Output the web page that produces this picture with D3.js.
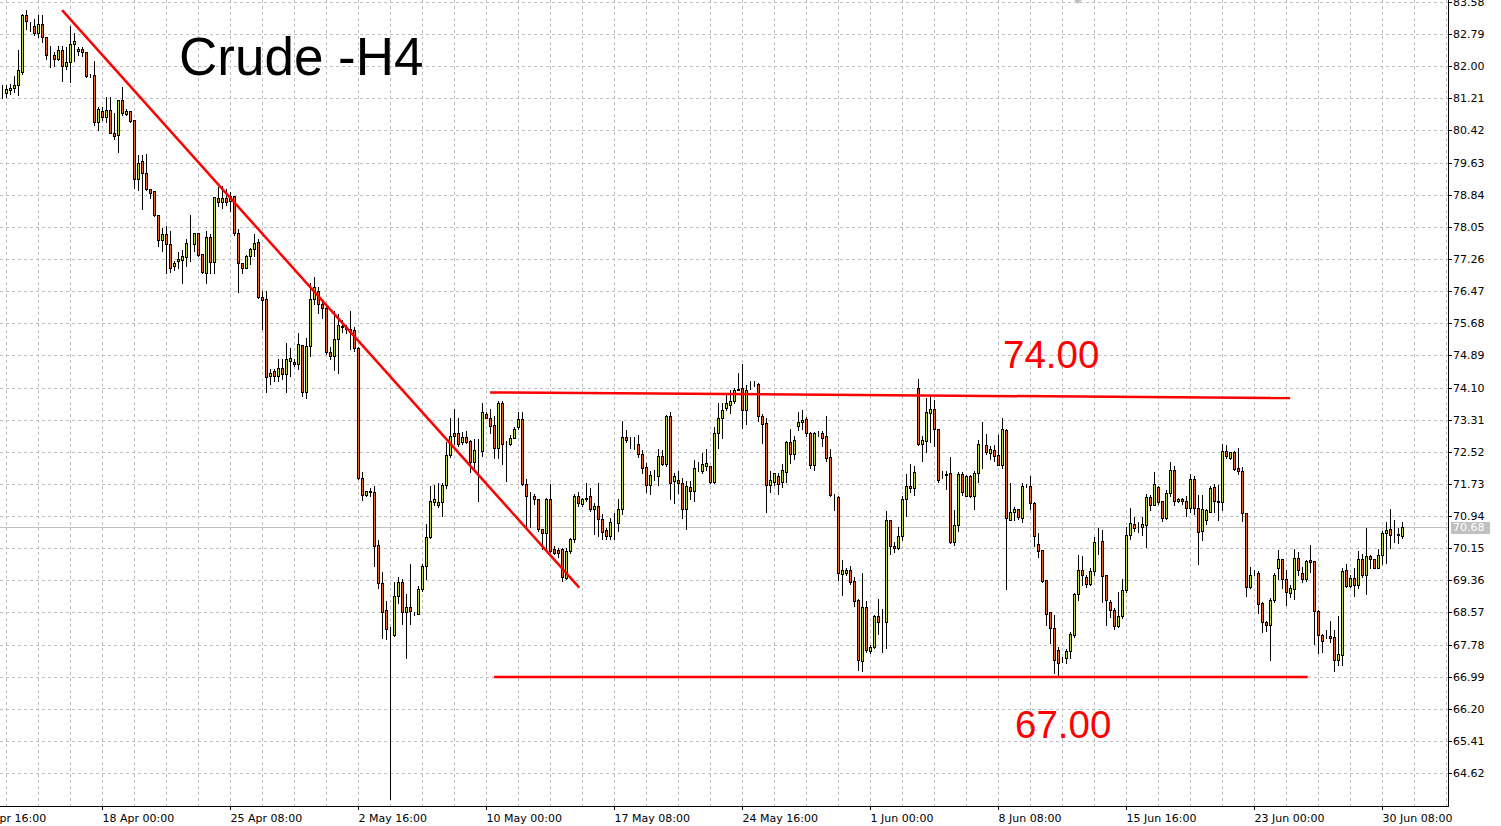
<!DOCTYPE html>
<html><head><meta charset="utf-8">
<script src="https://cdn.jsdelivr.net/npm/d3@7"></script>
<style>
html,body{margin:0;padding:0;background:#fff;overflow:hidden}
svg{display:block}
text{font-family:"DejaVu Sans",sans-serif}
text.big{font-family:"Liberation Sans",Arial,sans-serif}
</style></head><body>
<svg id="c" width="1501" height="826"></svg>
<script>
// ---- DATA (H4 candles, index 0..350) ----
const open = [
81.37,81.35,81.42,81.46,81.55,81.87,83.25,83.00,82.98,82.82,
83.05,82.73,82.28,82.27,82.18,82.41,82.01,82.11,82.55,82.37,
82.43,82.35,81.77,81.79,80.63,80.91,80.75,80.93,80.37,80.30,
81.18,80.82,80.89,80.67,79.23,79.66,79.38,78.97,78.93,78.33,
77.73,77.88,77.62,77.09,77.22,77.23,77.32,77.66,77.64,77.91,
77.39,76.92,77.81,77.19,78.77,78.65,78.77,78.69,78.81,77.91,
77.17,77.05,77.33,77.51,77.69,76.33,76.28,74.38,74.50,74.38,
74.57,74.44,74.75,74.73,74.67,75.15,74.00,75.12,76.28,76.47,
76.15,76.06,74.98,74.88,75.30,75.62,75.58,75.54,75.52,75.07,
71.88,71.46,71.55,71.54,70.23,69.29,68.63,68.02,68.01,68.97,
69.31,68.57,68.71,68.54,68.54,69.14,69.71,70.42,71.28,71.20,
71.29,71.70,72.43,72.97,72.97,72.75,72.89,72.79,72.26,72.56,
72.54,73.44,73.36,73.17,72.60,73.73,72.73,72.70,72.87,73.12,
73.32,71.72,71.46,71.42,71.35,70.61,70.53,71.35,70.12,70.10,
70.12,69.42,70.08,70.37,71.43,71.23,71.37,71.42,71.12,71.19,
70.86,70.59,70.45,70.80,70.77,71.12,72.89,72.72,72.70,72.70,
72.46,72.14,71.71,71.93,71.93,72.42,72.22,73.40,71.81,71.83,
71.75,71.12,71.65,71.55,72.10,72.05,72.16,72.16,71.78,72.99,
73.34,73.60,73.67,73.77,74.05,74.08,73.55,74.15,74.16,74.18,
73.39,73.22,71.70,71.77,71.92,71.77,72.03,72.75,72.46,73.16,
73.24,73.32,72.97,72.20,72.99,72.97,72.90,72.38,71.43,71.40,
69.52,69.55,69.62,69.33,68.87,67.37,68.70,67.61,67.72,68.48,
68.35,68.33,70.85,70.21,70.15,70.46,71.36,71.67,71.62,74.10,
72.71,72.79,73.47,73.57,73.08,71.95,71.95,71.99,70.30,70.72,
71.97,71.44,71.92,71.44,71.99,72.70,72.69,72.49,72.56,72.44,
72.20,73.05,70.85,71.03,71.11,70.89,71.67,71.67,71.26,70.26,
70.11,69.36,68.57,68.19,67.65,67.44,67.46,67.61,68.02,69.01,
69.62,69.43,69.26,69.59,70.30,70.32,69.48,68.82,68.63,68.24,
68.48,69.12,70.48,70.75,70.67,70.67,70.72,71.40,71.21,71.65,
71.30,70.89,71.50,72.07,71.30,71.36,71.32,71.13,71.85,71.13,
70.56,70.85,71.05,71.65,71.32,71.28,72.54,72.36,72.52,72.11,
72.05,71.01,69.20,69.53,69.55,68.79,68.34,68.26,68.87,69.65,
69.89,69.40,69.05,69.14,69.91,69.53,69.40,69.87,69.83,68.60,
68.02,67.99,68.00,67.97,67.40,67.53,69.61,69.22,69.42,69.24,
69.89,69.48,69.96,69.89,69.66,69.97,70.51,70.63,70.48,70.48,
70.45];
const high = [
81.53,81.55,81.57,81.75,82.39,83.28,83.39,83.09,83.17,83.25,
83.25,82.73,82.49,82.35,82.51,82.49,82.47,82.98,82.82,82.47,
82.47,82.35,81.80,82.14,81.01,81.01,81.24,81.24,80.86,81.18,
81.49,80.95,80.89,80.67,79.82,79.82,79.83,78.97,78.93,78.33,
78.03,78.06,77.94,77.21,77.43,77.49,77.74,78.33,77.91,77.91,
77.39,77.95,77.87,78.79,79.04,79.06,78.99,78.91,78.81,77.99,
77.17,77.35,77.54,77.87,77.74,76.47,76.47,74.55,74.55,74.80,
74.81,75.20,75.08,74.79,75.45,75.15,75.32,76.66,76.82,76.57,
76.28,76.11,75.09,75.98,75.90,75.77,75.64,75.99,75.60,75.10,
72.02,71.56,71.63,71.69,70.36,69.57,68.84,68.20,69.31,69.43,
69.39,69.01,69.77,68.58,69.22,69.77,70.74,71.67,71.71,71.75,
71.74,72.77,73.36,73.58,73.34,73.00,73.03,72.81,72.83,72.83,
73.71,73.49,73.57,73.40,73.77,73.77,72.79,72.93,73.12,73.49,
73.49,71.86,71.53,71.48,71.35,70.61,71.39,71.72,70.20,70.16,
70.16,70.16,70.41,71.47,71.52,71.39,71.76,71.62,71.27,71.75,
71.00,70.65,70.90,71.02,71.35,73.28,73.06,72.88,72.88,72.93,
72.56,72.24,72.04,72.08,72.58,72.57,73.42,73.50,72.00,72.04,
71.87,71.79,71.79,72.32,72.28,72.48,72.58,72.16,73.14,73.71,
73.73,73.91,74.05,74.09,74.46,74.69,74.16,74.27,74.27,74.22,
73.45,73.36,72.04,71.99,72.00,72.22,72.79,73.08,72.90,73.49,
73.55,73.38,73.00,73.00,73.04,73.04,73.39,72.59,71.48,71.43,
69.85,69.65,69.72,69.44,68.91,69.54,68.86,67.76,68.50,68.91,
68.66,71.07,70.85,70.30,70.66,71.42,71.97,72.22,72.16,74.30,
72.91,73.83,73.90,73.79,73.08,72.05,72.05,72.38,71.09,72.01,
72.01,71.95,71.95,72.05,72.82,73.26,72.95,72.67,72.68,72.93,
73.34,73.09,71.74,71.17,71.11,71.74,71.73,71.92,71.28,70.53,
70.11,69.36,68.57,68.50,67.73,67.48,67.67,68.08,69.04,69.99,
69.95,69.49,69.65,70.42,70.65,70.59,69.48,68.87,68.67,69.08,
69.40,70.67,71.13,70.91,70.79,70.91,71.48,71.46,72.03,71.69,
71.32,71.57,72.26,72.18,71.38,71.38,71.43,71.97,71.93,71.46,
71.46,71.12,71.69,71.73,71.70,72.71,72.68,72.52,72.54,72.62,
72.14,71.01,69.69,69.60,69.58,68.83,68.36,68.93,69.53,70.11,
69.89,69.61,69.24,70.14,70.06,69.69,69.85,70.22,69.83,68.63,
68.03,68.13,68.36,68.13,68.49,69.66,69.77,69.48,69.66,70.07,
70.01,70.65,69.98,69.89,70.12,70.56,70.79,71.12,70.83,70.65,
70.79];
const low = [
81.23,81.24,81.32,81.37,81.30,81.82,82.91,82.86,82.78,82.72,
82.60,82.18,81.98,82.00,82.16,81.64,81.93,81.61,82.14,82.27,
82.24,81.73,81.73,80.56,80.44,80.67,80.63,80.36,80.21,79.89,
80.79,80.79,80.63,79.01,78.95,78.50,78.95,78.75,78.32,77.58,
77.46,76.92,76.94,76.99,77.05,76.66,77.09,77.21,77.46,77.33,
76.91,76.68,76.92,76.92,78.56,78.52,78.58,78.44,77.84,76.45,
76.92,77.04,77.13,77.33,76.31,75.55,73.99,74.18,74.26,74.26,
74.30,74.00,74.39,74.63,74.55,73.88,73.84,74.88,76.15,75.94,
75.81,74.92,74.80,74.54,74.46,75.47,75.43,75.05,75.00,71.85,
71.33,71.42,71.42,69.71,69.18,67.94,67.91,63.98,67.99,68.80,
68.29,67.45,68.29,68.50,68.52,69.10,69.39,70.40,71.22,71.16,
70.95,71.63,72.39,72.71,72.67,72.71,72.73,72.03,72.13,71.30,
72.42,73.34,72.99,72.36,72.36,72.21,71.79,72.68,72.87,73.07,
71.70,70.66,70.68,71.23,70.57,70.12,70.12,70.06,70.00,69.92,
69.34,69.38,70.04,70.29,71.19,71.18,71.31,71.07,70.49,70.45,
70.37,70.37,70.37,70.37,70.57,70.98,72.75,72.62,72.59,72.40,
72.00,71.52,71.49,71.83,71.71,72.20,72.16,71.35,71.26,71.51,
70.90,70.61,71.35,71.32,72.04,72.00,72.08,71.75,71.75,72.60,
72.85,73.55,73.48,73.71,74.03,73.10,73.20,74.06,74.14,73.28,
72.73,71.03,71.52,71.70,71.48,71.66,71.77,72.24,72.34,73.06,
73.09,72.91,72.12,72.08,72.91,72.67,72.30,71.44,71.08,69.37,
69.00,69.50,69.27,68.72,67.15,67.13,67.60,67.56,67.70,68.05,
67.60,67.70,70.01,70.05,70.13,70.36,70.95,71.52,71.46,72.68,
72.30,72.52,72.77,72.65,71.78,71.87,71.60,70.28,70.23,70.58,
71.46,71.44,71.40,71.10,71.77,72.11,72.46,72.34,72.30,72.19,
72.11,69.15,70.83,70.83,70.87,70.79,71.65,71.11,70.21,69.93,
69.31,68.25,67.81,67.08,66.99,67.36,67.32,67.44,67.97,68.87,
69.24,69.20,69.24,69.48,70.01,68.83,68.26,68.46,68.16,68.20,
68.44,69.08,70.38,70.57,70.55,70.47,70.18,71.08,71.20,71.24,
70.81,70.87,71.44,71.20,71.28,71.24,70.94,71.04,71.00,69.75,
70.34,70.75,71.03,71.05,70.83,71.08,72.36,72.34,72.08,71.97,
70.81,68.97,69.18,69.50,68.55,68.09,68.11,67.40,68.83,69.40,
69.17,68.75,68.95,68.91,69.48,69.32,69.34,69.57,67.79,67.57,
67.60,67.93,67.85,67.13,67.27,67.27,69.20,69.20,68.98,69.16,
69.44,69.01,69.65,69.65,69.65,69.77,69.79,70.15,70.30,70.28,
70.40];
const close = [
81.37,81.43,81.47,81.55,81.90,83.25,83.11,82.98,82.82,83.05,
82.72,82.28,82.27,82.18,82.41,82.01,82.11,82.55,82.61,82.43,
82.35,81.75,81.75,80.63,80.94,80.75,80.93,80.36,80.28,81.18,
80.86,80.89,80.65,79.23,79.63,79.38,78.97,78.88,78.34,77.73,
77.88,77.62,77.05,77.15,77.26,77.33,77.66,77.65,77.91,77.36,
76.94,77.81,77.19,78.79,78.65,78.77,78.66,78.81,77.91,77.17,
77.05,77.33,77.51,77.66,76.33,76.25,74.36,74.46,74.38,74.57,
74.44,74.79,74.82,74.67,75.18,74.00,75.12,76.28,76.57,76.15,
76.06,74.97,74.88,75.30,75.64,75.60,75.54,75.46,75.07,71.88,
71.46,71.56,71.52,70.21,69.30,68.59,68.15,68.02,68.97,69.31,
68.57,68.71,68.61,68.54,69.14,69.71,70.42,71.32,71.35,71.28,
71.70,72.43,72.91,72.91,72.71,72.89,72.76,72.28,72.56,72.56,
73.49,73.36,73.16,72.60,73.73,72.72,72.73,72.87,73.09,73.32,
71.72,71.42,71.46,71.35,70.61,70.53,71.35,70.08,70.04,70.02,
69.45,70.08,70.37,71.43,71.25,71.37,71.39,71.12,71.19,70.86,
70.55,70.45,70.80,70.79,71.12,72.89,72.80,72.72,72.70,72.46,
72.12,71.70,71.96,71.93,72.42,72.23,73.40,71.75,71.92,71.75,
71.12,71.67,71.55,72.12,72.10,72.22,72.24,71.78,72.97,73.34,
73.55,73.71,73.77,74.05,74.06,73.55,74.05,74.16,74.17,73.40,
73.20,71.70,71.83,71.99,71.73,72.07,72.75,72.46,72.82,73.24,
73.30,72.97,72.20,72.99,72.99,72.87,72.36,71.46,71.43,69.54,
69.62,69.62,69.31,68.85,67.39,68.70,67.64,67.72,68.48,68.33,
68.35,70.85,70.21,70.15,70.46,71.36,71.69,71.62,72.01,72.71,
72.81,73.49,73.57,73.08,71.83,71.95,71.97,70.30,70.72,71.97,
71.54,71.92,71.44,71.99,72.71,72.70,72.52,72.59,72.42,72.20,
73.08,70.89,71.03,71.11,70.91,71.69,71.67,71.26,70.44,70.09,
69.33,68.54,68.19,67.40,67.32,67.44,67.62,68.03,69.01,69.62,
69.48,69.26,69.59,70.30,70.30,69.47,68.87,68.63,68.24,68.49,
69.12,70.48,70.77,70.65,70.67,70.75,71.40,71.21,71.73,71.28,
70.89,71.50,72.07,71.30,71.36,71.30,71.13,71.85,71.13,70.55,
71.12,71.08,71.62,71.30,71.28,72.54,72.41,72.52,72.10,72.05,
71.01,69.20,69.48,69.54,68.77,68.34,68.26,68.87,69.50,69.89,
69.39,69.08,69.17,69.91,69.61,69.40,69.83,69.82,68.60,68.02,
67.87,67.99,67.93,67.40,67.55,69.59,69.22,69.42,69.24,69.89,
69.48,69.96,69.88,69.66,69.97,70.52,70.59,70.48,70.48,70.49,
70.68];

const priceTicks = [83.58,82.79,82.00,81.21,80.42,79.63,78.84,78.05,77.26,76.47,75.68,74.89,
  74.10,73.31,72.52,71.73,70.94,70.15,69.36,68.57,67.78,66.99,66.20,65.41,64.62];
const timeLabels = ["11 Apr 16:00","18 Apr 00:00","25 Apr 08:00","2 May 16:00","10 May 00:00",
  "17 May 08:00","24 May 16:00","1 Jun 00:00","8 Jun 08:00","15 Jun 16:00","23 Jun 00:00","30 Jun 08:00"];
const timeLabelBar = [-7,25,57,89,121,153,185,217,249,281,313,345];
const currentPrice = 70.68;
// drawn lines: bar index / price of both ends
const lineStartBar = [14.9, 121.9, 122.9];
const lineStartPrice = [83.38, 73.98, 66.98];
const lineEndBar = [144.2, 321.9, 326.3];
const lineEndPrice = [69.18, 73.84, 66.98];
const levelTexts = ["74.00","67.00"];
const title = "Crude -H4";

// ---- DRAWING ----
const plotR = 1448, plotB = 806;
const svg = d3.select("#c");
const x = d3.scaleLinear().domain([0, 350]).range([2.5, 1402.5]);
const y = d3.scaleLinear().domain([64.62, 83.58]).range([773, 2]);
const ry = v => Math.round(y(v));

const plot = svg.append("g");
plot.append("clipPath").attr("id","pc").append("rect").attr("x",0).attr("y",0).attr("width",plotR).attr("height",plotB);
const g = plot.append("g").attr("clip-path","url(#pc)");

// grid
const gridColor = "#c0c0c0";
g.selectAll("line.hg").data(priceTicks).join("line").attr("class","hg")
  .attr("x1",0).attr("x2",plotR).attr("y1",d=>ry(d)+0.5).attr("y2",d=>ry(d)+0.5)
  .attr("stroke",gridColor).attr("stroke-dasharray","3,3");
g.selectAll("line.vg").data(d3.range(1, 362, 8)).join("line").attr("class","vg")
  .attr("x1",d=>x(d)).attr("x2",d=>x(d)).attr("y1",0).attr("y2",plotB)
  .attr("stroke",gridColor).attr("stroke-dasharray","3,3");

// current price line
g.append("line").attr("x1",0).attr("x2",plotR).attr("y1",ry(currentPrice)+0.5).attr("y2",ry(currentPrice)+0.5)
  .attr("stroke","#c0c0c0").attr("stroke-width",1);

// candles
const bars = d3.range(open.length);
const cg = g.append("g");
cg.selectAll("line.w").data(bars).join("line").attr("class","w")
  .attr("x1",i=>x(i)).attr("x2",i=>x(i))
  .attr("y1",i=>ry(high[i])).attr("y2",i=>ry(low[i])+1)
  .attr("stroke","#000").attr("stroke-width",1);
cg.selectAll("rect.b").data(bars).join("rect").attr("class","b")
  .attr("x",i=>x(i)-1).attr("width",2)
  .attr("y",i=>ry(Math.max(open[i],close[i]))+0.5)
  .attr("height",i=>Math.max(0, ry(Math.min(open[i],close[i])) - ry(Math.max(open[i],close[i]))))
  .attr("fill",i=> close[i] >= open[i] ? "#bcd83a" : "#e8622a")
  .attr("stroke","#000").attr("stroke-width",1);

// red drawn lines
g.selectAll("line.tl").data(lineStartBar.map((d,k)=>k)).join("line").attr("class","tl")
  .attr("x1",k=>x(lineStartBar[k])).attr("y1",k=>y(lineStartPrice[k]))
  .attr("x2",k=>x(lineEndBar[k])).attr("y2",k=>y(lineEndPrice[k]))
  .attr("stroke","#ff0000").attr("stroke-width",2.5);

// texts
svg.append("text").attr("class","big").attr("x",179).attr("y",75)
  .style("font-size","53px").attr("fill","#000").text(title);
svg.append("text").attr("class","big").attr("x",1003).attr("y",368)
  .style("font-size","38.5px").attr("fill","#ff0000").text(levelTexts[0]);
svg.append("text").attr("class","big").attr("x",1015).attr("y",738)
  .style("font-size","38.5px").attr("fill","#ff0000").text(levelTexts[1]);

// small shift marker at top
svg.append("path").attr("d","M1074,0 L1082,0 L1078,4 Z").attr("fill","#c0c0c0");

// axes
svg.append("line").attr("x1",plotR+0.5).attr("x2",plotR+0.5).attr("y1",0).attr("y2",plotB+1).attr("stroke","#000");
svg.append("line").attr("x1",0).attr("x2",plotR+1).attr("y1",plotB+0.5).attr("y2",plotB+0.5).attr("stroke","#000");

const ya = svg.append("g");
ya.selectAll("line").data(priceTicks).join("line")
  .attr("x1",plotR).attr("x2",plotR+4).attr("y1",d=>ry(d)+0.5).attr("y2",d=>ry(d)+0.5).attr("stroke","#000");
ya.selectAll("text").data(priceTicks).join("text")
  .attr("x",plotR+5).attr("y",d=>ry(d)+0.5).attr("dy","0.36em")
  .attr("font-size",11).attr("fill","#000").text(d=>d.toFixed(2));

// current price box
svg.append("rect").attr("x",1451).attr("y",ry(currentPrice)-5).attr("width",39).attr("height",12).attr("fill","#c0c0c0");
svg.append("text").attr("x",plotR+5).attr("y",ry(currentPrice)+0.5).attr("dy","0.36em")
  .attr("font-size",11).attr("fill","#fff").text(currentPrice.toFixed(2));

const xa = svg.append("g");
xa.selectAll("line").data(timeLabelBar).join("line")
  .attr("x1",d=>x(d)).attr("x2",d=>x(d)).attr("y1",plotB).attr("y2",plotB+4).attr("stroke","#000");
xa.selectAll("text").data(timeLabelBar).join("text")
  .attr("x",d=>x(d)).attr("y",822).attr("font-size",11).attr("fill","#000")
  .text((d,k)=>timeLabels[k]);
</script>
</body></html>
